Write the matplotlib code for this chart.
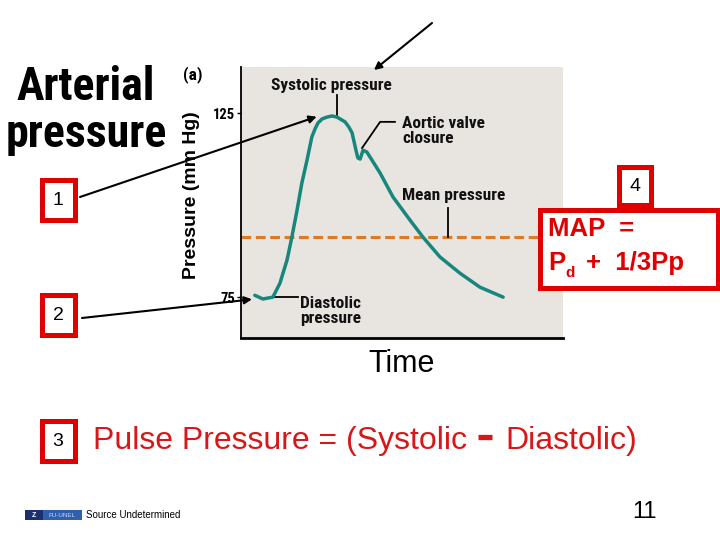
import matplotlib.pyplot as plt
from matplotlib import font_manager
from matplotlib.patches import Rectangle

# arterial pressure trace (time in arbitrary units)
time = [0.43, 0.68, 0.99, 1.21, 1.43, 1.58, 1.74, 1.89, 2.05, 2.20, 2.30,
        2.39, 2.52, 2.67, 2.83, 2.98, 3.23, 3.35, 3.45, 3.57, 3.63, 3.70,
        3.79, 3.91, 4.32, 4.72, 5.25, 5.65, 6.18, 6.80, 7.42, 8.14]
pressure = [75.5, 74.5, 75.0, 78.8, 85.1, 91.3, 98.6, 106.0, 112.2, 118.5,
            120.7, 122.3, 123.4, 123.9, 124.2, 123.9, 122.6, 121.2, 119.6,
            114.9, 112.8, 112.5, 114.9, 114.4, 108.7, 102.2, 95.9, 91.3,
            85.9, 81.5, 77.7, 75.0]
mean_pressure = 91.3
yticks = [75, 125]

names = {f.name for f in font_manager.fontManager.ttflist}
narrow = next((n for n in ["Liberation Sans Narrow", "DejaVu Sans Condensed",
                           "Roboto Condensed"] if n in names), "DejaVu Sans")
sans = "Liberation Sans" if "Liberation Sans" in names else "DejaVu Sans"

RED = "#e00000"
TEAL = "#17877d"
ORANGE = "#e07a22"

fig = plt.figure(figsize=(7.2, 5.4), dpi=100)
fig.patch.set_facecolor("white")

# pressure chart
ax = fig.add_axes([241 / 720, 1 - 338 / 540, 322 / 720, 271 / 540])
ax.set_facecolor("#e8e4e0")
ax.set_xlim(0, 10)
ax.set_ylim(63.9, 137.5)
ax.plot(time, pressure, color=TEAL, lw=2.5, solid_capstyle="round",
        solid_joinstyle="round", zorder=3)
ax.axhline(mean_pressure, color=ORANGE, lw=2.2, dashes=(3.2, 1.5), zorder=2)
for s in ["top", "right"]:
    ax.spines[s].set_visible(False)
ax.spines["left"].set_linewidth(1.3)
ax.spines["bottom"].set_linewidth(2)
ax.set_xticks([])
ax.set_yticks(yticks)
ax.tick_params(axis="y", length=3, width=1, pad=1)
for lab in ax.get_yticklabels():
    lab.set_fontfamily(narrow)
    lab.set_fontweight("bold")
    lab.set_fontsize(10.5)
ax.set_xlabel("Time", fontsize=22, family=sans, labelpad=8)

lbl = dict(family=narrow, fontweight="bold", fontsize=12.5, color="#111111")
ax.text(2.80, 132.6, "Systolic pressure", ha="center", va="center", **lbl)
ax.plot([2.98, 2.98], [129.9, 124.0], color="black", lw=1.3)
ax.text(5.0, 120.2, "Aortic valve\nclosure", ha="left", va="center",
        linespacing=1.0, **lbl)
ax.plot([3.76, 4.32, 4.78], [115.5, 122.6, 122.6], color="black", lw=1.3)
ax.text(5.0, 102.7, "Mean pressure", ha="left", va="center", **lbl)
ax.plot([6.43, 6.43], [99.2, mean_pressure], color="black", lw=1.3)
ax.text(1.83, 71.2, "Diastolic\npressure", ha="left", va="center",
        linespacing=1.0, **lbl)
ax.plot([0.96, 1.77], [75.0, 75.0], color="black", lw=1.3)

# slide overlay in pixel coordinates
ov = fig.add_axes([0, 0, 1, 1])
ov.set_xlim(0, 720)
ov.set_ylim(540, 0)
ov.axis("off")
ov.patch.set_alpha(0)

ov.text(86, 100, "Arterial", ha="center", va="baseline", family=narrow,
        fontweight="bold", fontsize=33)
ov.text(86, 147, "pressure", ha="center", va="baseline", family=narrow,
        fontweight="bold", fontsize=33)
ov.text(193, 75, "(a)", ha="center", va="center", family=narrow,
        fontweight="bold", fontsize=12.5)
ov.text(192, 195, "Pressure (mm Hg)", ha="center", va="center", rotation=90,
        family=sans, fontweight="bold", fontsize=14)

# numbered red boxes
for num, (x0, y0) in zip(["1", "2", "3", "4"],
                         [(39, 177), (39, 292), (39, 418), (616, 164)]):
    w, h = (38, 45) if num != "4" else (37, 43)
    ov.add_patch(Rectangle((x0 + 2.5, y0 + 2.5), w - 5, h - 5, fill=True,
                           facecolor="white", edgecolor=RED, lw=3.6,
                           zorder=5))
    ov.text(x0 + w / 2, y0 + h / 2 + 1, num, ha="center", va="center",
            family=sans, fontsize=14, zorder=6)

ov.add_patch(Rectangle((539.5, 209.5), 178, 78, facecolor="white",
                       edgecolor=RED, lw=3.6, zorder=5))
mp = dict(family=sans, fontweight="bold", color=RED, zorder=6)
ov.text(548, 229, "MAP  =", ha="left", va="center", fontsize=18.5, **mp)
ov.text(548, 263, "P", ha="left", va="center", fontsize=18.5, **mp)
ov.text(565, 273, "d", ha="left", va="center", fontsize=11, **mp)
ov.text(586, 263, "+  1/3Pp", ha="left", va="center", fontsize=18.5, **mp)

# arrows
arrow = dict(arrowstyle="-|>", color="black", lw=1.5, mutation_scale=11,
             shrinkA=0, shrinkB=0)
ax.annotate("", xy=(2.35, 124.0), xytext=(80, 197), textcoords=ov.transData,
            arrowprops=arrow, annotation_clip=False, zorder=7)
ax.annotate("", xy=(0.34, 74.4), xytext=(82, 318), textcoords=ov.transData,
            arrowprops=arrow, annotation_clip=False, zorder=7)
ov.annotate("", xy=(374, 70), xytext=(432, 23), arrowprops=arrow)

# pulse pressure line
pp = dict(family=sans, color="#d81818", fontsize=23)
ov.text(93, 441, "Pulse Pressure = (Systolic", ha="left", va="center", **pp)
ov.plot([478, 492], [436.5, 436.5], color="#d81818", lw=3.8,
        solid_capstyle="butt")
ov.text(505, 441, "Diastolic)", ha="left", va="center", **pp)

# footer
ov.add_patch(Rectangle((25, 510), 18, 10, facecolor="#1c2f6e", lw=0))
ov.add_patch(Rectangle((43, 510), 39, 10, facecolor="#2f5fae", lw=0))
ov.text(34, 515.5, "Z", ha="center", va="center", color="white",
        fontsize=5, fontweight="bold", family=sans)
ov.text(62, 515.5, "FU-UNEL", ha="center", va="center", color="#c8d8f0",
        fontsize=4.5, family=sans)
ov.text(86, 515, "Source Undetermined", ha="left", va="center",
        fontsize=7, family=sans)
ov.text(645, 512, "11", ha="center", va="center", fontsize=17, family=sans)

fig.savefig("out.png", dpi=100)
